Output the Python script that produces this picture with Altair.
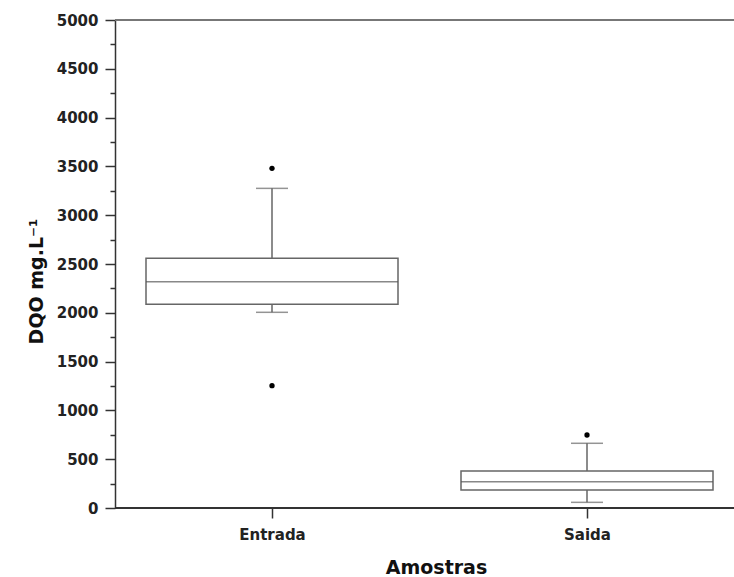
import altair as alt
import pandas as pd

categories = ["Entrada", "Saida"]
q1 = [2087, 184]
medians = [2319, 270]
q3 = [2558, 379]
whisker_low = [2005, 58]
whisker_high = [3275, 663]
outlier_cat = ["Entrada", "Entrada", "Saida"]
outlier_val = [3480, 1253, 748]
y_tick_values = [0, 250, 500, 750, 1000, 1250, 1500, 1750, 2000, 2250, 2500,
                 2750, 3000, 3250, 3500, 3750, 4000, 4250, 4500, 4750, 5000]
y_frame = [0, 5000]

stats = pd.DataFrame({
    "cat": categories, "q1": q1, "med": medians, "q3": q3,
    "lo": whisker_low, "hi": whisker_high,
})
outs = pd.DataFrame({"cat": outlier_cat, "v": outlier_val})
frame = pd.DataFrame({"v": y_frame, "c": ["#333333", "#777777"]})

FONT = "DejaVu Sans"
YTITLE = "DQO mg.L\u207b\u00b9"
AX = "#333333"
BOX = "#666666"

x_scale = alt.Scale(type="point", domain=categories, range=[157, 472], padding=0)
y_scale = alt.Scale(domain=[0, 5000], nice=False, zero=True)

x_axis = alt.Axis(
    title="Amostras", titleFont=FONT, titleFontSize=19, titleFontWeight="bold",
    titleColor="#111", titleX=321, titleY=65, titleBaseline="alphabetic",
    labelFont=FONT, labelFontSize=15, labelFontWeight="bold", labelColor="#222",
    labelPadding=9, labelAngle=0, tickSize=10, tickWidth=1.5, tickColor=AX,
    domain=False, grid=False,
)
y_axis = alt.Axis(
    title=YTITLE, titleFont=FONT, titleFontSize=19, titleFontWeight="bold",
    titleColor="#111", titleAngle=270, titleX=-79, titleY=261,
    titleBaseline="middle", titleAlign="center",
    values=y_tick_values, format="d",
    labelExpr="datum.value % 500 === 0 ? datum.label : ''",
    labelOverlap=False,
    labelFont=FONT, labelFontSize=15, labelFontWeight="bold", labelColor="#222",
    labelPadding=7,
    tickSize={"condition": {"test": "datum.value % 500 === 0", "value": 10}, "value": 5},
    tickWidth=1.5, tickColor=AX, domainColor=AX, domainWidth=1.5, grid=False,
)


def X():
    return alt.X("cat:N", scale=x_scale, axis=x_axis, title="Amostras")


def Y(field):
    return alt.Y(field, type="quantitative", scale=y_scale, axis=y_axis, title=YTITLE)


base = alt.Chart(stats)

whisk = base.mark_rule(color=BOX, strokeWidth=1.5).encode(x=X(), y=Y("lo"), y2="hi")
box = base.mark_bar(size=252, fill="white", stroke=BOX, strokeWidth=1.5).encode(
    x=X(), y=Y("q1"), y2="q3")
med = base.mark_tick(size=252, thickness=1.5, color="#555555").encode(x=X(), y=Y("med"))
cap_lo = base.mark_tick(size=32, thickness=1.5, color=BOX).encode(x=X(), y=Y("lo"))
cap_hi = base.mark_tick(size=32, thickness=1.5, color=BOX).encode(x=X(), y=Y("hi"))
pts = alt.Chart(outs).mark_circle(size=28, color="black", opacity=1).encode(
    x=X(), y=Y("v"))
frame_lines = alt.Chart(frame).mark_rule(strokeWidth=1.8).encode(
    y=Y("v"), color=alt.Color("c:N", scale=None))

chart = alt.layer(whisk, box, med, cap_lo, cap_hi, pts, frame_lines).properties(
    width=619, height=488,
    autosize=alt.AutoSizeParams(type="none"),
    padding={"left": 115, "top": 20, "right": 0, "bottom": 69},
    background="white",
).configure_view(stroke=None)

chart.save("out.html", embed_options={"renderer": "svg", "actions": False})
